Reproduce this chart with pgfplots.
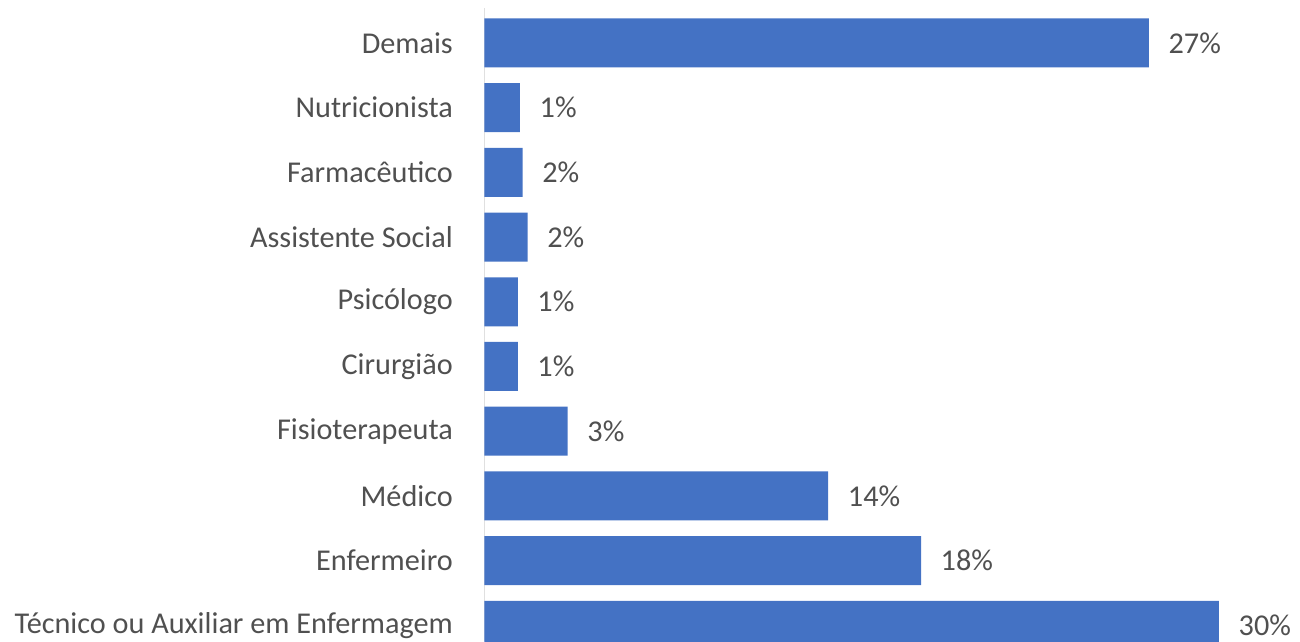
\documentclass[border=0pt]{standalone}
\usepackage{pgfplots}
\pgfplotsset{compat=1.18}
\usepackage{fontspec}
\setmainfont{Carlito}
\definecolor{barblue}{HTML}{4472C4}
\definecolor{txt}{HTML}{505050}
\definecolor{axgray}{HTML}{D0D0D0}
\begin{document}
\begin{tikzpicture}[x=1cm,y=1cm]
\useasboundingbox (-4.845,0) rectangle (8.155,6.41);
\clip (-4.845,0) rectangle (8.155,6.41);
\begin{axis}[
  scale only axis, width=8.155cm, height=6.41cm,
  at={(0,0)}, anchor=south west,
  xbar, bar width=0.49cm,
  xmin=0, xmax=33.31, ymin=-0.243, ymax=9.665,
  axis x line=none, axis y line*=left,
  y axis line style={draw=none},
  ytick={0,1,2,3,4,5,6,7,8,9},
  yticklabels={Técnico ou Auxiliar em Enfermagem, Enfermeiro, Médico, Fisioterapeuta, Cirurgião, Psicólogo, Assistente Social, Farmacêutico, Nutricionista, Demais},
  xtick=\empty, major tick length=0pt,
  yticklabel style={inner sep=0pt, xshift=-0.31cm, font=\fontsize{8.6}{10.3}\selectfont, text=txt},
  nodes near coords, point meta=explicit symbolic,
  nodes near coords style={anchor=west, inner sep=0pt, xshift=0.19cm, font=\fontsize{8.6}{10.3}\selectfont, text=txt},
]
\draw[axgray, line width=0.7pt] (axis cs:-0.05,-0.243) -- (axis cs:-0.05,9.541);
\addplot[fill=barblue, draw=none] coordinates {
  (30.00,0) [30\%]
  (17.83,1) [18\%]
  (14.04,2) [14\%]
  (3.40,3) [3\%]
  (1.36,4) [1\%]
  (1.36,5) [1\%]
  (1.76,6) [2\%]
  (1.56,7) [2\%]
  (1.45,8) [1\%]
  (27.14,9) [27\%]
};
\end{axis}
\end{tikzpicture}
\end{document}
